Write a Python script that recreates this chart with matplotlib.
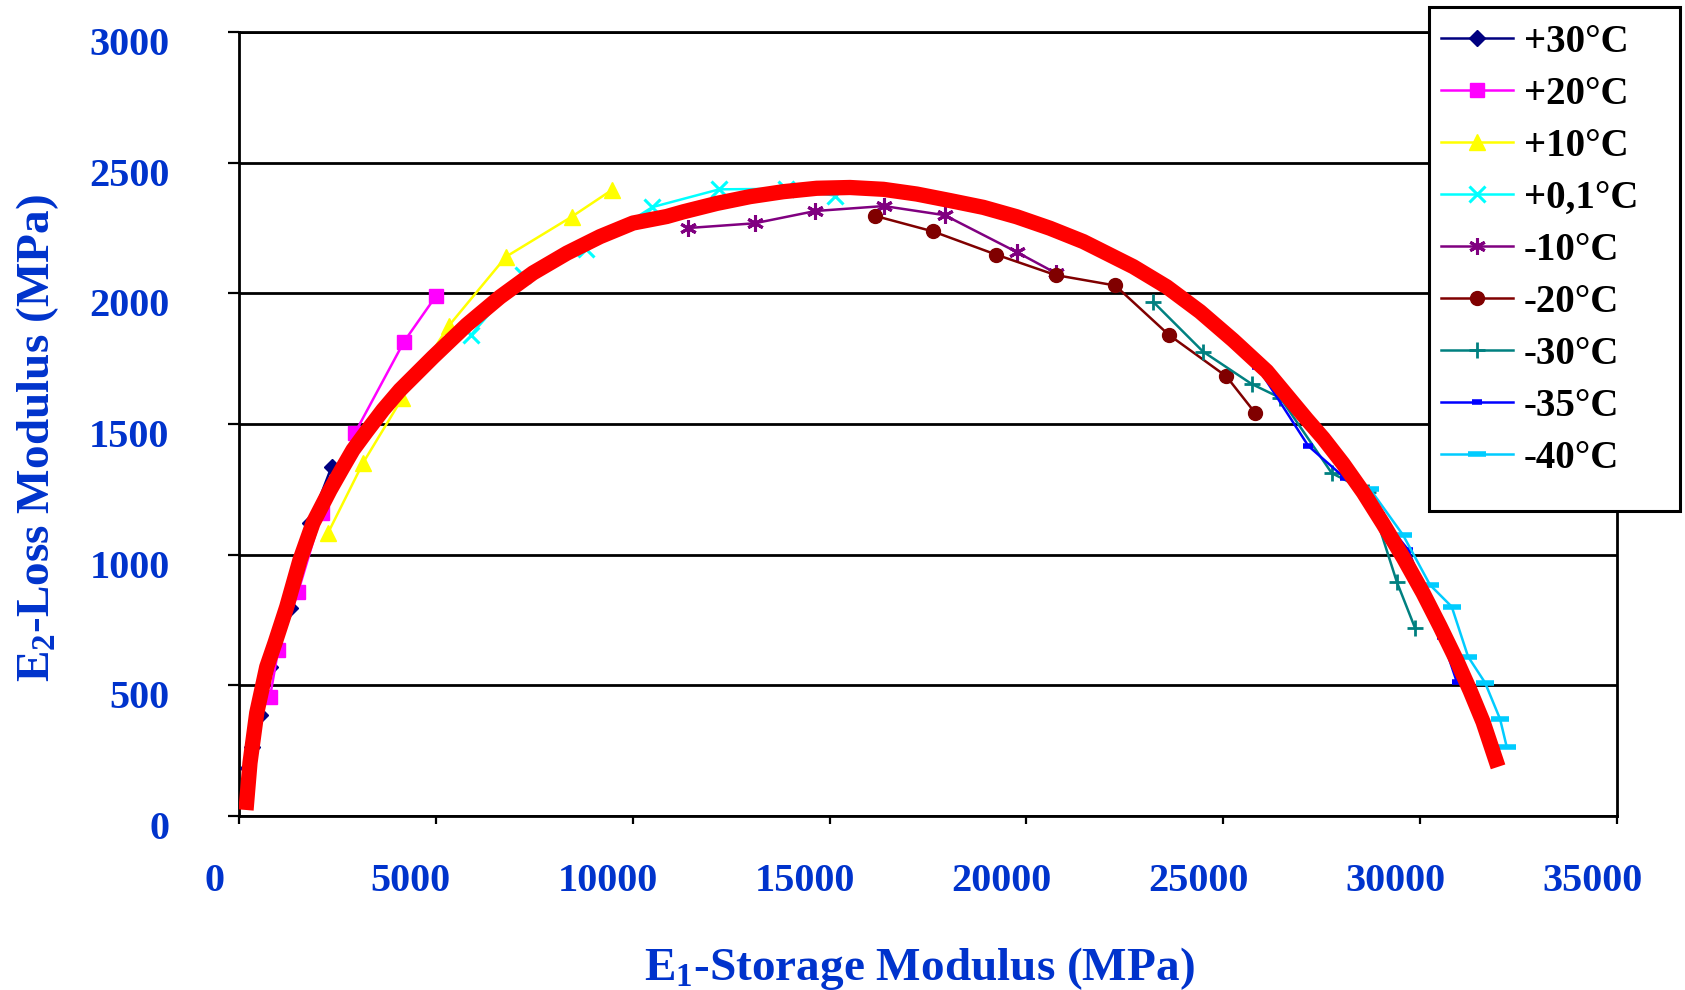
import matplotlib
matplotlib.use('Agg')
import matplotlib.pyplot as plt
import matplotlib.transforms as mtransforms
from matplotlib.patches import Rectangle

plt.rcParams['font.family'] = 'Liberation Serif'
plt.rcParams['font.weight'] = 'bold'
plt.rcParams['mathtext.fontset'] = 'custom'
plt.rcParams['mathtext.rm'] = 'Liberation Serif:bold'
plt.rcParams['mathtext.it'] = 'Liberation Serif:bold'
plt.rcParams['mathtext.bf'] = 'Liberation Serif:bold'

t30_x = [229, 322, 533, 787, 1295, 1803, 2354]
t30_y = [184, 264, 386, 570, 796, 1121, 1337]

t20_x = [787, 995, 1500, 2100, 2946, 4191, 5004]
t20_y = [455, 635, 857, 1159, 1466, 1815, 1990]

t10_x = [2261, 3150, 4150, 5330, 6780, 8450, 9466]
t10_y = [1083, 1351, 1600, 1876, 2140, 2293, 2395]

t01_x = [5900, 7210, 8820, 10500, 12200, 13900, 15140]
t01_y = [1842, 2070, 2170, 2330, 2398, 2400, 2374]

tm10_x = [11415, 13095, 14640, 16380, 17925, 19752, 20740]
tm10_y = [2250, 2268, 2315, 2334, 2299, 2158, 2078]

tm20_x = [16165, 17625, 19235, 20740, 22255, 23610, 25080, 25806]
tm20_y = [2296, 2237, 2148, 2070, 2030, 1842, 1682, 1543]

tm30_x = [23216, 24486, 25722, 26450, 27755, 28676, 29405, 29871]
tm30_y = [1968, 1777, 1653, 1600, 1312, 1241, 897, 719]

tm35_x = [25860, 27160, 28090, 28981, 29700, 30548, 30929]
tm35_y = [1720, 1416, 1293, 1152, 1018, 686, 514]

tm40_x = [28727, 29566, 30252, 30802, 31217, 31649, 32030, 32200]
tm40_y = [1251, 1075, 884, 801, 610, 510, 371, 264]

# Fitted master curve (thick red)
fit_x = [178, 279, 450, 704, 914, 1212, 1549, 1880, 2311, 2642, 2896, 3243,
         3658, 4089, 4928, 5783, 6630, 7468, 8331, 9170, 10008, 10864,
         11286, 12133, 12979, 13826, 14673, 15519, 16366, 17213, 18059,
         18905, 19753, 20599, 21445, 21869, 22715, 23563, 24409, 25248,
         26104, 27120, 27541, 28042, 28557, 29058, 29574, 30074, 30504,
         30937, 31268, 31598, 31979]
fit_y = [23, 203, 394, 570, 662, 800, 980, 1121, 1247, 1335, 1401, 1472,
         1554, 1630, 1756, 1879, 1986, 2078, 2154, 2217, 2269, 2294,
         2312, 2344, 2370, 2389, 2402, 2405, 2398, 2380, 2355,
         2329, 2293, 2249, 2198, 2166, 2102, 2025, 1930, 1821,
         1702, 1518, 1445, 1348, 1238, 1118, 988, 853, 726,
         592, 480, 360, 188]

labels = ['+30°C', '+20°C', '+10°C', '+0,1°C', '-10°C', '-20°C',
          '-30°C', '-35°C', '-40°C']

blue = '#0033CC'

fig = plt.figure(figsize=(16.85, 9.90), dpi=100)
ax = fig.add_axes([239 / 1685, 1 - 816 / 990, 1378 / 1685, 784 / 990])

series = [
    (t30_x, t30_y, dict(color='#000080', marker='D', ms=8)),
    (t20_x, t20_y, dict(color='#FF00FF', marker='s', ms=10)),
    (t10_x, t10_y, dict(color='#FFFF00', marker='^', ms=12)),
    (t01_x, t01_y, dict(color='#00FFFF', marker='x', ms=11, mew=2.2)),
    (tm10_x, tm10_y, dict(color='#800080', marker=(6, 2, 0), ms=12, mew=2.2)),
    (tm20_x, tm20_y, dict(color='#800000', marker='o', ms=10)),
    (tm30_x, tm30_y, dict(color='#008080', marker='+', ms=11, mew=2)),
    (tm35_x, tm35_y, dict(color='#0000FF', marker='_', ms=7, mew=4)),
    (tm40_x, tm40_y, dict(color='#00CCFF', marker='_', ms=13, mew=4)),
]

handles = []
for (xs, ys, st), lab in zip(series, labels):
    h, = ax.plot(xs, ys, lw=1.8, label=lab, zorder=3, **st)
    handles.append(h)

ax.plot(fit_x, fit_y, color='#FF0000', lw=11, solid_capstyle='butt',
        solid_joinstyle='round', zorder=4)

ax.set_xlim(0, 35000)
ax.set_ylim(0, 3000)
ax.set_xticks(range(0, 35001, 5000))
ax.set_yticks(range(0, 3001, 500))
ax.yaxis.grid(True, color='black', lw=2)
ax.set_axisbelow(True)
for s in ax.spines.values():
    s.set_linewidth(2)

ax.tick_params(axis='x', direction='out', length=6, width=1.6,
               labelsize=29, labelcolor=blue, pad=28)
ax.tick_params(axis='y', direction='out', length=8, width=1.6,
               labelsize=29, labelcolor=blue, pad=42)

# Excel-like label offsets
dx = mtransforms.ScaledTranslation(-0.25, 0, fig.dpi_scale_trans)
for lab in ax.get_xticklabels():
    lab.set_transform(lab.get_transform() + dx)
dy = mtransforms.ScaledTranslation(0, -0.09, fig.dpi_scale_trans)
for lab in ax.get_yticklabels():
    lab.set_transform(lab.get_transform() + dy)

ax.set_xlabel('E$_1$-Storage Modulus (MPa)', fontsize=34, color=blue,
              fontweight='bold', va='center')
ax.xaxis.set_label_coords(0.494, -0.194)
ax.set_ylabel('E$_2$-Loss Modulus (MPa)', fontsize=34, color=blue,
              fontweight='bold', va='center')
ax.yaxis.set_label_coords(-0.146, 0.482)

# legend box
box = Rectangle((1429 / 1685, 1 - 511 / 990), 251 / 1685, 504 / 990,
                transform=fig.transFigure, facecolor='white',
                edgecolor='black', lw=2.2, zorder=5)
fig.add_artist(box)
leg = fig.legend(handles=handles, loc='upper left',
                 bbox_to_anchor=(1441 / 1685, 1 - 24 / 990),
                 bbox_transform=fig.transFigure, frameon=False,
                 fontsize=28, handlelength=1.85, handletextpad=0.28,
                 labelspacing=0.385, borderaxespad=0, borderpad=0)
leg.set_zorder(6)

fig.savefig('out.png', dpi=100)
